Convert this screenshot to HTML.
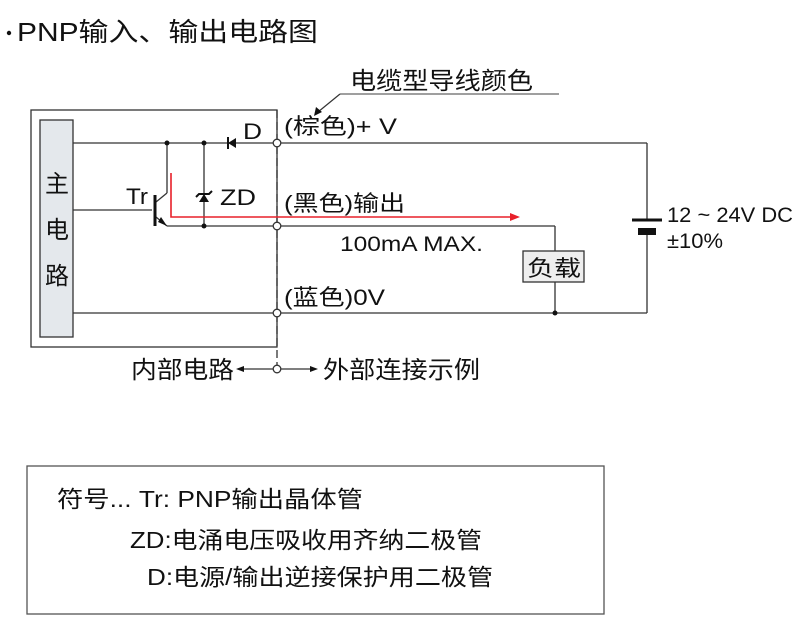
<!DOCTYPE html>
<html><head><meta charset="utf-8"><style>
body{margin:0;background:#fff;}
svg text{font-family:"Liberation Sans","Noto Sans CJK SC",sans-serif;fill:#111;}
</style></head><body>
<svg width="800" height="631" xmlns="http://www.w3.org/2000/svg">
<circle cx="9" cy="33" r="2.2" fill="#111"/>
<text x="17" y="41" font-size="26" textLength="301" lengthAdjust="spacingAndGlyphs">PNP输入、输出电路图</text>
<text x="350" y="89" font-size="24" textLength="183" lengthAdjust="spacingAndGlyphs">电缆型导线颜色</text>
<line x1="340" y1="94" x2="559" y2="94" stroke="#666" stroke-width="1.2"/>
<line x1="340" y1="94" x2="318" y2="112" stroke="#333" stroke-width="1.2"/>
<polygon points="314,116 316,107 322,112" fill="#111"/>
<g stroke="#333" stroke-width="1.3" fill="none">
<rect x="31" y="110" width="246" height="237"/>
<rect x="40" y="120" width="33" height="217" fill="#e4e8ec"/>
<line x1="73" y1="143" x2="273" y2="143"/>
<line x1="73" y1="210" x2="152" y2="210"/>
<line x1="167" y1="143" x2="167" y2="193"/>
<line x1="167" y1="193" x2="156" y2="202"/>
<line x1="156" y1="217" x2="167" y2="226"/>
<line x1="167" y1="226" x2="273" y2="226"/>
<line x1="204" y1="143" x2="204" y2="226"/>
<line x1="73" y1="313" x2="273" y2="313"/>
<line x1="277" y1="110" x2="277" y2="372" stroke-dasharray="8,4"/>
<line x1="281" y1="143" x2="647" y2="143"/>
<line x1="647" y1="143" x2="647" y2="219"/>
<line x1="647" y1="234" x2="647" y2="313"/>
<line x1="281" y1="226" x2="555" y2="226"/>
<line x1="555" y1="226" x2="555" y2="251"/>
<line x1="555" y1="282" x2="555" y2="313"/>
<line x1="281" y1="313" x2="647" y2="313"/>
<rect x="523" y="251" width="61" height="31" fill="#eee"/>
</g>
<line x1="155" y1="195" x2="155" y2="226" stroke="#111" stroke-width="3"/>
<polygon points="158,222 167,226 161,217" fill="#111"/>
<polygon points="228,143 236,138 236,148" fill="#111"/>
<line x1="228" y1="137" x2="228" y2="149" stroke="#111" stroke-width="2"/>
<text x="243" y="139" font-size="22" textLength="19" lengthAdjust="spacingAndGlyphs">D</text>
<polygon points="204,194 199,202 209,202" fill="#111"/>
<path d="M196,197 L199,194 L209,194 L212,191" stroke="#111" stroke-width="2" fill="none"/>
<text x="220" y="205" font-size="22" textLength="36" lengthAdjust="spacingAndGlyphs">ZD</text>
<text x="126" y="204" font-size="22" textLength="22" lengthAdjust="spacingAndGlyphs">Tr</text>
<g fill="#111"><circle cx="167" cy="143" r="2.5"/><circle cx="204" cy="143" r="2.5"/><circle cx="204" cy="226" r="2.5"/><circle cx="555" cy="313" r="2.5"/></g>
<g fill="#fff" stroke="#333" stroke-width="1.3"><circle cx="277" cy="143" r="3.8"/><circle cx="277" cy="226" r="3.8"/><circle cx="277" cy="313" r="3.8"/><circle cx="277" cy="369" r="3.8"/></g>
<polyline points="171,173 171,217 512,217" stroke="#e8202a" stroke-width="1.6" fill="none"/>
<polygon points="520,217 510,213 510,221" fill="#e8202a"/>
<line x1="632" y1="220" x2="662" y2="220" stroke="#111" stroke-width="3"/>
<rect x="638" y="228" width="18" height="7" fill="#111"/>
<text x="667" y="222" font-size="21" textLength="126" lengthAdjust="spacingAndGlyphs">12 ~ 24V DC</text>
<text x="667" y="248" font-size="21" textLength="56" lengthAdjust="spacingAndGlyphs">±10%</text>
<text x="45" y="192" font-size="24">主</text>
<text x="45" y="238" font-size="24">电</text>
<text x="45" y="284" font-size="24">路</text>
<text x="284" y="134" font-size="22" textLength="113" lengthAdjust="spacingAndGlyphs">(棕色)+ V</text>
<text x="284" y="211" font-size="22" textLength="121" lengthAdjust="spacingAndGlyphs">(黑色)输出</text>
<text x="340" y="251" font-size="21" textLength="143" lengthAdjust="spacingAndGlyphs">100mA MAX.</text>
<text x="527" y="276" font-size="22" textLength="54" lengthAdjust="spacingAndGlyphs">负载</text>
<text x="284" y="305" font-size="22" textLength="101" lengthAdjust="spacingAndGlyphs">(蓝色)0V</text>
<text x="131" y="378" font-size="24" textLength="103" lengthAdjust="spacingAndGlyphs">内部电路</text>
<line x1="240" y1="369" x2="273" y2="369" stroke="#333" stroke-width="1.2"/>
<polygon points="236,369 244,366 244,372" fill="#111"/>
<line x1="281" y1="369" x2="312" y2="369" stroke="#333" stroke-width="1.2"/>
<polygon points="318,369 310,366 310,372" fill="#111"/>
<text x="323" y="378" font-size="24" textLength="157" lengthAdjust="spacingAndGlyphs">外部连接示例</text>
<rect x="27" y="466" width="577" height="148" fill="none" stroke="#555" stroke-width="1.3"/>
<text x="57" y="507" font-size="23" textLength="306" lengthAdjust="spacingAndGlyphs">符号... Tr: PNP输出晶体管</text>
<text x="130" y="548" font-size="23" textLength="352" lengthAdjust="spacingAndGlyphs">ZD:电涌电压吸收用齐纳二极管</text>
<text x="147" y="585" font-size="23" textLength="346" lengthAdjust="spacingAndGlyphs">D:电源/输出逆接保护用二极管</text>
</svg>
</body></html>
